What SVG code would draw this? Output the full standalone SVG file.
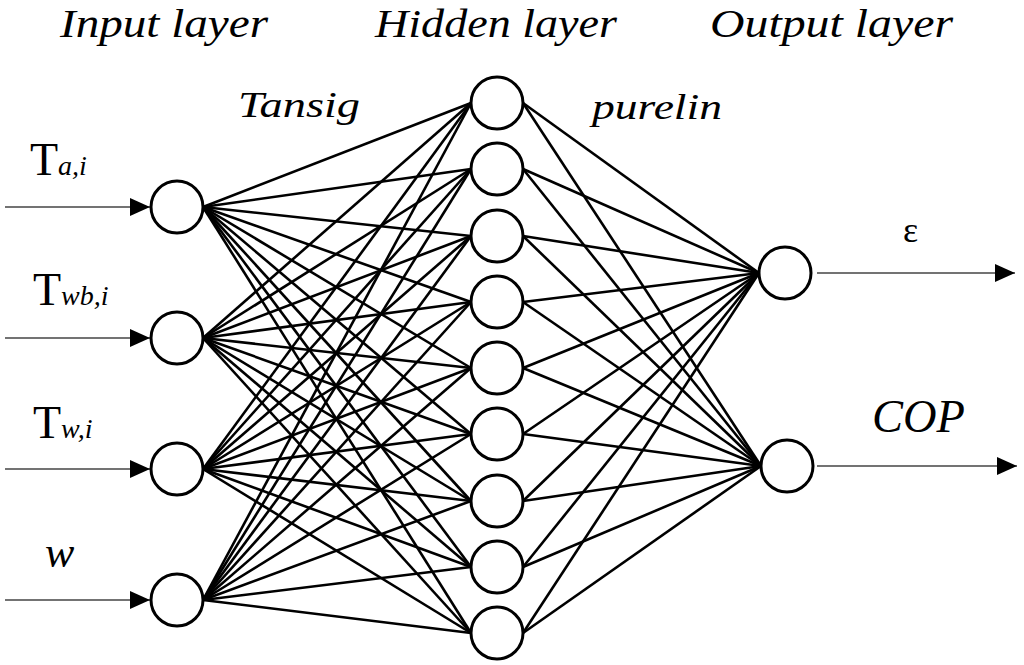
<svg xmlns="http://www.w3.org/2000/svg" width="1024" height="665" viewBox="0 0 1024 665">
<defs>
<style>
.n{fill:#fff;stroke:#000;stroke-width:3}
.e line{stroke:#000;stroke-width:2.6}
.e line.a{stroke:#444;stroke-width:1.6}
</style>
<marker id="ar" markerWidth="20" markerHeight="20" refX="20" refY="9" orient="auto" markerUnits="userSpaceOnUse"><path d="M0,0 L20,9 L0,18 Z" fill="#000"/></marker>
</defs>
<rect width="1024" height="665" fill="#fff"/>
<g id="labels" font-family="Liberation Serif, serif" fill="#000">
<text x="60" y="37" font-size="40" font-style="italic" textLength="208" lengthAdjust="spacingAndGlyphs">Input layer</text>
<text x="375" y="37" font-size="40" font-style="italic" textLength="242" lengthAdjust="spacingAndGlyphs">Hidden layer</text>
<text x="710" y="37" font-size="40" font-style="italic" textLength="243" lengthAdjust="spacingAndGlyphs">Output layer</text>
<text x="238" y="117" font-size="36" font-style="italic" textLength="122" lengthAdjust="spacingAndGlyphs">Tansig</text>
<text x="592" y="119" font-size="36" font-style="italic" textLength="130" lengthAdjust="spacingAndGlyphs">purelin</text>
<text x="30" y="175" font-size="46">T<tspan font-size="28" font-style="italic">a,i</tspan></text>
<text x="33" y="305" font-size="46">T<tspan font-size="28" font-style="italic">wb,i</tspan></text>
<text x="33" y="438" font-size="46">T<tspan font-size="28" font-style="italic">w,i</tspan></text>
<text x="45" y="567" font-size="44" font-style="italic">w</text>
<text x="903" y="242" font-size="36">ε</text>
<text x="872" y="432" font-size="46" font-style="italic" textLength="93" lengthAdjust="spacingAndGlyphs">COP</text>
</g>
<g id="connectors" class="e">
<line class="a" x1="5" y1="207" x2="150" y2="207" marker-end="url(#ar)"/>
<line class="a" x1="5" y1="338" x2="150" y2="338" marker-end="url(#ar)"/>
<line class="a" x1="5" y1="469" x2="150" y2="469" marker-end="url(#ar)"/>
<line class="a" x1="5" y1="600" x2="150" y2="600" marker-end="url(#ar)"/>
<line class="a" x1="817" y1="273" x2="1015" y2="273" marker-end="url(#ar)"/>
<line class="a" x1="817" y1="466" x2="1017" y2="466" marker-end="url(#ar)"/>
<line x1="203" y1="207" x2="471" y2="103"/><line x1="203" y1="207" x2="471" y2="169"/><line x1="203" y1="207" x2="471" y2="236"/><line x1="203" y1="207" x2="471" y2="302"/><line x1="203" y1="207" x2="471" y2="368"/><line x1="203" y1="207" x2="471" y2="434"/><line x1="203" y1="207" x2="471" y2="501"/><line x1="203" y1="207" x2="471" y2="567"/><line x1="203" y1="207" x2="471" y2="633"/>
<line x1="203" y1="338" x2="471" y2="103"/><line x1="203" y1="338" x2="471" y2="169"/><line x1="203" y1="338" x2="471" y2="236"/><line x1="203" y1="338" x2="471" y2="302"/><line x1="203" y1="338" x2="471" y2="368"/><line x1="203" y1="338" x2="471" y2="434"/><line x1="203" y1="338" x2="471" y2="501"/><line x1="203" y1="338" x2="471" y2="567"/><line x1="203" y1="338" x2="471" y2="633"/>
<line x1="203" y1="469" x2="471" y2="103"/><line x1="203" y1="469" x2="471" y2="169"/><line x1="203" y1="469" x2="471" y2="236"/><line x1="203" y1="469" x2="471" y2="302"/><line x1="203" y1="469" x2="471" y2="368"/><line x1="203" y1="469" x2="471" y2="434"/><line x1="203" y1="469" x2="471" y2="501"/><line x1="203" y1="469" x2="471" y2="567"/><line x1="203" y1="469" x2="471" y2="633"/>
<line x1="203" y1="600" x2="471" y2="103"/><line x1="203" y1="600" x2="471" y2="169"/><line x1="203" y1="600" x2="471" y2="236"/><line x1="203" y1="600" x2="471" y2="302"/><line x1="203" y1="600" x2="471" y2="368"/><line x1="203" y1="600" x2="471" y2="434"/><line x1="203" y1="600" x2="471" y2="501"/><line x1="203" y1="600" x2="471" y2="567"/><line x1="203" y1="600" x2="471" y2="633"/>
<line x1="523" y1="103" x2="759" y2="273"/><line x1="523" y1="169" x2="759" y2="273"/><line x1="523" y1="236" x2="759" y2="273"/><line x1="523" y1="302" x2="759" y2="273"/><line x1="523" y1="368" x2="759" y2="273"/><line x1="523" y1="434" x2="759" y2="273"/><line x1="523" y1="501" x2="759" y2="273"/><line x1="523" y1="567" x2="759" y2="273"/><line x1="523" y1="633" x2="759" y2="273"/>
<line x1="523" y1="103" x2="761" y2="466"/><line x1="523" y1="169" x2="761" y2="466"/><line x1="523" y1="236" x2="761" y2="466"/><line x1="523" y1="302" x2="761" y2="466"/><line x1="523" y1="368" x2="761" y2="466"/><line x1="523" y1="434" x2="761" y2="466"/><line x1="523" y1="501" x2="761" y2="466"/><line x1="523" y1="567" x2="761" y2="466"/><line x1="523" y1="633" x2="761" y2="466"/>
</g>
<g id="in1"><circle class="n" cx="177" cy="207" r="26"/></g>
<g id="in2"><circle class="n" cx="177" cy="338" r="26"/></g>
<g id="in3"><circle class="n" cx="177" cy="469" r="26"/></g>
<g id="in4"><circle class="n" cx="177" cy="600" r="26"/></g>
<g id="h1"><circle class="n" cx="497" cy="103" r="26"/></g>
<g id="h2"><circle class="n" cx="497" cy="169" r="26"/></g>
<g id="h3"><circle class="n" cx="497" cy="236" r="26"/></g>
<g id="h4"><circle class="n" cx="497" cy="302" r="26"/></g>
<g id="h5"><circle class="n" cx="497" cy="368" r="26"/></g>
<g id="h6"><circle class="n" cx="497" cy="434" r="26"/></g>
<g id="h7"><circle class="n" cx="497" cy="501" r="26"/></g>
<g id="h8"><circle class="n" cx="497" cy="567" r="26"/></g>
<g id="h9"><circle class="n" cx="497" cy="633" r="26"/></g>
<g id="out1"><circle class="n" cx="785" cy="273" r="26"/></g>
<g id="out2"><circle class="n" cx="787" cy="466" r="26"/></g>
</svg>
